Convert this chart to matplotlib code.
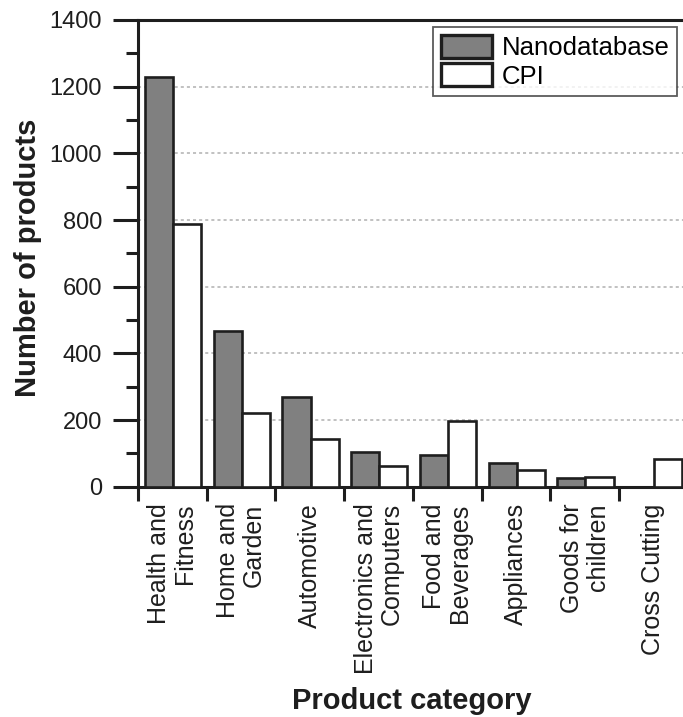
import matplotlib
matplotlib.use("Agg")
import matplotlib.pyplot as plt
import numpy as np
from matplotlib.ticker import MultipleLocator

plt.rcParams['font.family'] = ['Liberation Sans', 'DejaVu Sans']

categories = ["Health and\nFitness", "Home and\nGarden", "Automotive",
              "Electronics and\nComputers", "Food and\nBeverages", "Appliances",
              "Goods for\nchildren", "Cross Cutting"]
nanodatabase = [1228, 468, 270, 105, 95, 72, 25, 0]
cpi = [788, 220, 142, 62, 197, 50, 30, 83]

W, H = 683, 717
fig = plt.figure(figsize=(W / 100, H / 100), dpi=100)
ax = fig.add_axes([138 / W, 1 - 486.7 / H, (683 - 138) / W, (486.7 - 20) / H])

x = np.arange(len(categories))
bw = 0.41
edge = "#1e1e1e"
ax.bar(x + 0.1, nanodatabase, width=bw, align='edge', color="#808080",
       edgecolor=edge, linewidth=1.9, label="Nanodatabase", zorder=3)
ax.bar(x + 0.1 + bw, cpi, width=bw, align='edge', color="white",
       edgecolor=edge, linewidth=1.9, label="CPI", zorder=3)

ax.set_xlim(0, 7.93)
ax.set_ylim(0, 1400)

# grid
for yv in range(200, 1400, 200):
    ax.axhline(yv, color="#b0b0b0", linestyle=(0, (2, 2)), linewidth=1.1, zorder=1)

# y ticks
ax.yaxis.set_major_locator(MultipleLocator(200))
ax.yaxis.set_minor_locator(MultipleLocator(100))
ax.tick_params(axis='y', which='major', direction='out', length=18, width=2.2,
               labelsize=17, pad=8, colors=edge)
ax.tick_params(axis='y', which='minor', direction='out', length=9, width=2.2, colors=edge)

# x ticks: marks at boundaries, labels at centers
ax.set_xticks(np.arange(0, 8), labels=[""] * 8)
ax.set_xticks(x + 0.5, labels=categories, minor=True)
ax.tick_params(axis='x', which='major', direction='out', length=10, width=2.2, colors=edge)
ax.tick_params(axis='x', which='minor', length=0, labelsize=18, pad=12, colors=edge)
for lab in ax.get_xticklabels(minor=True):
    lab.set_rotation(90)
    lab.set_multialignment('right')
    lab.set_linespacing(1.1)
    lab.set_va('top')
    lab.set_ha('center')

for s in ['left', 'top', 'bottom']:
    ax.spines[s].set_linewidth(2.2)
    ax.spines[s].set_color(edge)
ax.spines['right'].set_visible(False)

leg = ax.legend(loc='upper right', bbox_to_anchor=((677 - 138) / (683 - 138), (486.7 - 27.3) / (486.7 - 20)),
                fontsize=18.5, frameon=True, fancybox=False, borderpad=0.3,
                handlelength=2.0, handleheight=1.0, handletextpad=0.35, labelspacing=0.12,
                borderaxespad=0.0)
leg.get_frame().set_edgecolor("#333333")
leg.get_frame().set_linewidth(1.3)
for p in leg.get_patches():
    p.set_linewidth(2.4)

fig.text(28 / W, 1 - 258 / H, "Number of products", rotation=90, ha='center', va='center',
         fontsize=21, fontweight='bold', color=edge)
fig.text(412 / W, 1 - 709 / H, "Product category", ha='center', va='baseline',
         fontsize=21, fontweight='bold', color=edge)

fig.savefig("out.png", dpi=100)
